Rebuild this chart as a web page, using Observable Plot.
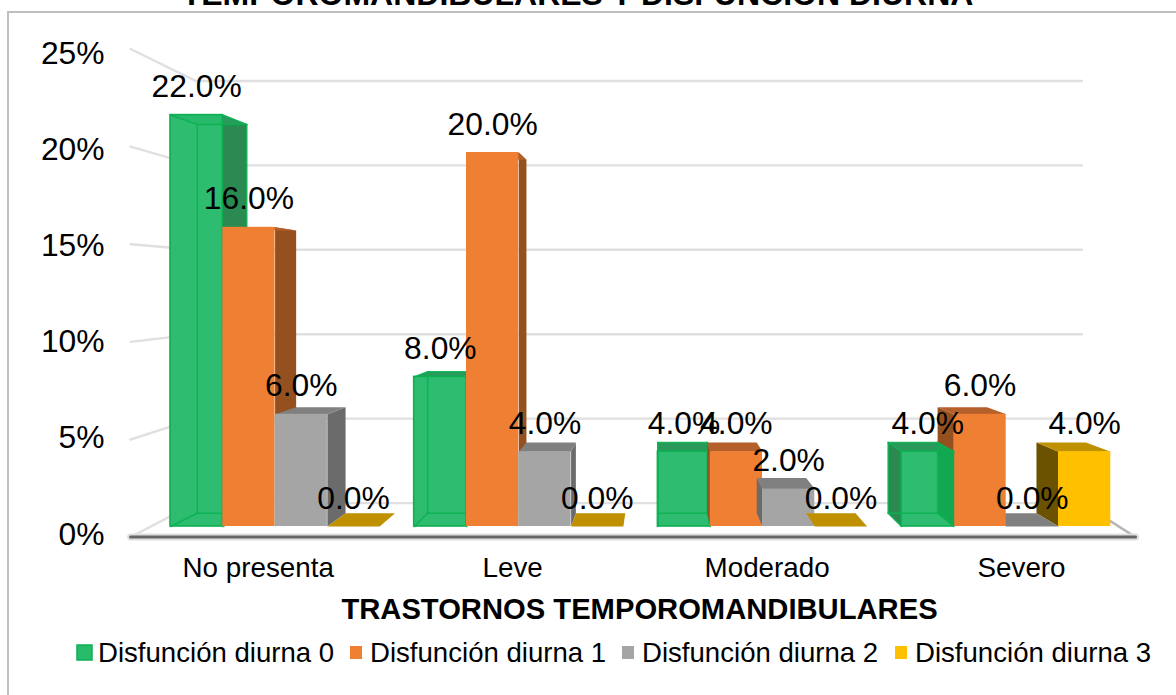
<!DOCTYPE html>
<html lang="es"><head><meta charset="utf-8">
<style>
html,body{margin:0;padding:0;background:#fff;overflow:hidden;width:1176px;height:695px}
#wrap{position:relative;width:1176px;height:695px;overflow:hidden}
#frame{position:absolute;left:7px;top:11px;width:1200px;height:720px;border:2.5px solid #bfbfbf;box-sizing:border-box}
#title{position:absolute;left:0;width:1155px;text-align:center;top:-24px;font:bold 32px "Liberation Sans",Arial,sans-serif;color:#000;white-space:nowrap}
#chart{position:absolute;left:0;top:0}
</style>
<script src="https://cdn.jsdelivr.net/npm/d3@7"></script>
<script src="https://cdn.jsdelivr.net/npm/@observablehq/plot@0.6"></script>
</head><body>
<div id="wrap"><div id="frame"></div><div id="title">TEMPOROMANDIBULARES Y DISFUNCIÓN DIURNA</div><div id="chart"></div></div>
<script>
const categories=["No presenta","Leve","Moderado","Severo"];
const series=["Disfunción diurna 0","Disfunción diurna 1","Disfunción diurna 2","Disfunción diurna 3"];
const dd0=[22,8,4,4];
const dd1=[16,20,4,6];
const dd2=[6,4,2,0];
const dd3=[0,0,0,4];
const values=[dd0,dd1,dd2,dd3];
const yTicks=[0,5,10,15,20,25];
const frontFill=["#27bb6b","#ee7f33","#a5a5a5","#ffc000"];
const sideFill=["#2a8a52","#95501f","#6b6b6b","#6b5200"];
const topFill=["#2a9a5c","#b5602a","#808080","#bf9000"];
const edge="#0cb052";

// Perspective camera, in data units (x: category index, y: percent)
const vp={u:2.0,v:12.9}, backD=0.945, wallFrontD=1.044, wallBackD=0.903, labelD=1.029;
const barW=52.3/243.7;
const proj=(u,v,d)=>({x:vp.u+(u-vp.u)*d,y:vp.v+(v-vp.v)*d});

const bars=[];
categories.forEach((c,i)=>series.forEach((s,j)=>{
  bars.push({c,i,j,s,value:values[j][i],u0:i+j*barW,u1:i+(j+1)*barW});
}));
// painter's order: bars further from the vanishing point sit behind their inner neighbours' fronts
const ordered=[...bars].sort((a,b)=>a.i-b.i||(a.i===3?b.j-a.j:a.j-b.j));

function poly(pts,id,fill){return pts.map(p=>({x:p.x,y:p.y,id,fill}));}
const marks=[];
const xOpt={x:"x",y:"y"};
// wall grid
const wallL={front:-0.164,back:0.103}, wallR={front:3.96,back:3.74};
yTicks.forEach(t=>{
  const f=proj(0,t,wallFrontD), b=proj(0,t,wallBackD);
  const isZero=t===0;
  marks.push(Plot.line([{x:wallL.front,y:f.y},{x:wallL.back,y:b.y},{x:wallR.back,y:b.y}],{...xOpt,stroke:"#e0e0e0",strokeWidth:2.4}));
  if(isZero) marks.push(Plot.line([{x:wallR.back,y:b.y},{x:wallR.front,y:f.y}],{...xOpt,stroke:"#b5b5b5",strokeWidth:2.4}));
});
{
  const f=proj(0,0,wallFrontD);
  marks.push(Plot.line([{x:wallL.front,y:f.y},{x:wallR.front,y:f.y}],{...xOpt,stroke:"#dedede",strokeWidth:7}));
  marks.push(Plot.line([{x:wallL.front,y:f.y},{x:wallR.front,y:f.y}],{...xOpt,stroke:"#666666",strokeWidth:3}));
}
// bars
ordered.forEach(b=>{
  const {u0,u1,value:v,j}=b;
  const fTL=proj(u0,v,1),fTR=proj(u1,v,1),bTL=proj(u0,v,backD),bTR=proj(u1,v,backD);
  const fBL=proj(u0,0,1),fBR=proj(u1,0,1),bBL=proj(u0,0,backD),bBR=proj(u1,0,backD);
  const faces=[];
  const id=b.i+"-"+b.j;
  if(v>0){
    if(u1<vp.u) faces.push(...poly([fTR,bTR,bBR,fBR],id+"s",sideFill[j]));
    if(u0>vp.u) faces.push(...poly([fTL,bTL,bBL,fBL],id+"s",sideFill[j]));
  }
  faces.push(...poly([fTL,fTR,bTR,bTL],id+"t",topFill[j]));
  marks.push(Plot.line(faces,{...xOpt,z:"id",fill:"fill",stroke:null,curve:"linear-closed"}));
  if(v>0){
    marks.push(Plot.rect([b],{x1:"u0",x2:"u1",y1:()=>0,y2:"value",fill:frontFill[j],fillOpacity:j===0?0.97:1,stroke:j===0?edge:null,strokeWidth:j===0?1.6:0,inset:0}));
    if(j===0){
      if(u0>vp.u){
        marks.push(Plot.line(poly([fTR,{x:bTR.x,y:bTR.y},{x:bBR.x,y:bBR.y},fBR],id+"h","#12a852"),{...xOpt,z:"id",fill:"fill",stroke:null,curve:"linear-closed"}));
      }
      const edges=[[bTL,bTR],[bBL,bBR],[fTL,bTL],[fBL,bBL],[bTL,bBL],[bTR,bBR],[fTR,bTR],[fBR,bBR]];
      edges.forEach(e=>marks.push(Plot.line(e,{...xOpt,stroke:edge,strokeWidth:1.6,strokeOpacity:0.9})));
    }
  }
});
// value labels
marks.push(Plot.text(bars,{x:d=>(d.u0+d.u1)/2,y:"value",text:d=>d.value.toFixed(1)+"%",dy:-28,fontSize:31.8,fill:"#000",textAnchor:"middle",lineAnchor:"middle"}));
// y tick labels
marks.push(Plot.text(yTicks,{x:()=>wallL.front,y:t=>proj(0,t,labelD).y,text:t=>t+"%",dx:-26,dy:1,textAnchor:"end",fontSize:31.8,fill:"#000",lineAnchor:"middle"}));
// category labels
marks.push(Plot.text(categories,{x:(c,i)=>proj(i+2*barW,0,wallFrontD).x,y:()=>0,text:c=>c,dy:42,fontSize:27.8,fill:"#000",lineAnchor:"middle"}));

const plot=Plot.plot({
  width:1176,height:695,marginTop:0,marginRight:0,marginBottom:0,marginLeft:0,
  x:{type:"linear",domain:[0,4],range:[170,170+974.8],axis:null},
  y:{type:"linear",domain:[0,25],range:[526,526-467.5],axis:null},
  color:{type:"identity"},
  style:{fontFamily:'"Liberation Sans",Arial,sans-serif',background:"transparent",overflow:"visible"},
  marks:marks.concat([
    Plot.text(["TRASTORNOS TEMPOROMANDIBULARES"],{frameAnchor:"bottom-left",dx:639,dy:-77,text:d=>d,fontWeight:"bold",fontSize:29.2,fill:"#000",textAnchor:"middle",lineAnchor:"bottom"})
  ])
});
document.getElementById("chart").appendChild(plot);

// legend as real svg text, appended to the plot's svg
const legendSwatchX=[77,350,622,895], legendTextX=[98,370,642,915];
const ns="http://www.w3.org/2000/svg";
series.forEach((s,i)=>{
  const r=document.createElementNS(ns,"rect");
  r.setAttribute("x",legendSwatchX[i]);r.setAttribute("y",i===0?645:646);r.setAttribute("width",i===0?15:12);r.setAttribute("height",i===0?15:13);
  r.setAttribute("fill",frontFill[i]);
  if(i===0){r.setAttribute("stroke",edge);r.setAttribute("stroke-width",1.5);}
  plot.appendChild(r);
  const t=document.createElementNS(ns,"text");
  t.setAttribute("x",legendTextX[i]);t.setAttribute("y",662);t.setAttribute("text-anchor","start");
  t.setAttribute("font-size",27.6);t.setAttribute("fill","#000");t.textContent=s;
  plot.appendChild(t);
});
</script></body></html>
